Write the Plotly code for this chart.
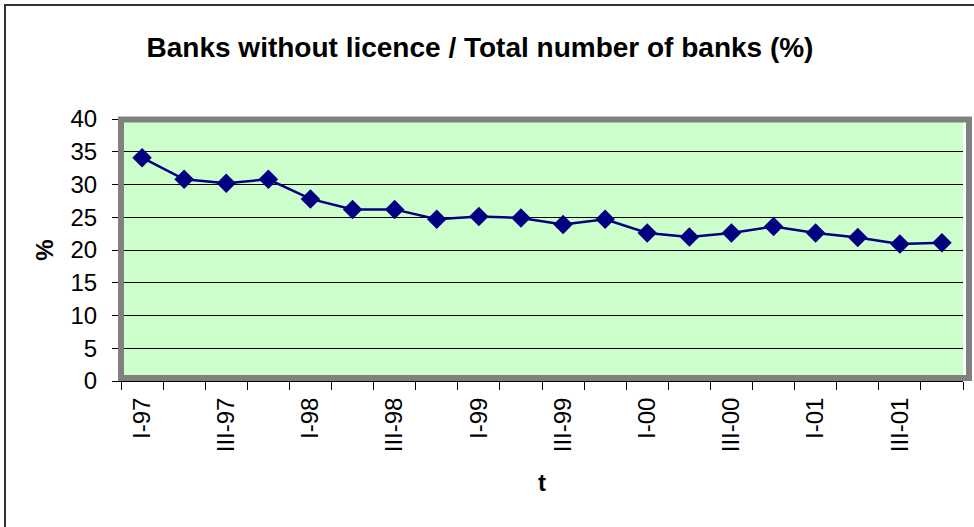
import plotly.graph_objects as go

quarters = ["I-97", "II-97", "III-97", "IV-97",
            "I-98", "II-98", "III-98", "IV-98",
            "I-99", "II-99", "III-99", "IV-99",
            "I-00", "II-00", "III-00", "IV-00",
            "I-01", "II-01", "III-01", "IV-01"]
share_pct = [34.1, 30.8, 30.2, 30.8, 27.8, 26.2, 26.2, 24.7, 25.1, 24.9,
             23.9, 24.7, 22.6, 22.0, 22.6, 23.6, 22.6, 21.9, 20.9, 21.1]
tick_text = [q if i % 2 == 0 else "" for i, q in enumerate(quarters)]
y_ticks = [0, 5, 10, 15, 20, 25, 30, 35, 40]

W, H = 974, 527
L, R, T, B = 121, 11, 119, 146
pw, ph = W - L - R, H - T - B
def px(x):
    return (x - L) / pw
def py(y):
    return (H - B - y) / ph

FONT = "Arial, Liberation Sans, sans-serif"

fig = go.Figure()
fig.add_trace(go.Scatter(
    x=quarters, y=share_pct, mode="lines+markers",
    line=dict(color="#000080", width=2.5),
    marker=dict(symbol="diamond", size=15, color="#000080"),
    showlegend=False, hoverinfo="x+y"))

fig.update_layout(
    width=W, height=H,
    margin=dict(l=L, r=R, t=T, b=B),
    paper_bgcolor="white", plot_bgcolor="#CCFFCC",
    font=dict(family=FONT, color="black"),
    title=dict(text="<b>Banks without licence / Total number of banks (%)</b>",
               x=480 / W, xanchor="center", y=1 - 47 / H, yanchor="middle",
               font=dict(size=28, family=FONT, color="black")),
    xaxis=dict(type="category", range=[-0.5, len(quarters) - 0.5],
               tickmode="array", tickvals=quarters, ticktext=tick_text,
               tickson="boundaries", ticks="outside", ticklen=8,
               tickcolor="black", tickwidth=1, tickangle=-90,
               tickfont=dict(size=24, family=FONT), ticklabelstandoff=6,
               showgrid=False, showline=True, linecolor="black", linewidth=1,
               title=dict(text="<b>t</b>", font=dict(size=24, family=FONT), standoff=22),
               fixedrange=True),
    yaxis=dict(range=[0, 40], tickmode="array", tickvals=y_ticks,
               ticks="outside", ticklen=8, tickcolor="black", tickwidth=1,
               tickfont=dict(size=24, family=FONT), ticklabelstandoff=10,
               showgrid=True, gridcolor="black", gridwidth=1,
               showline=True, linecolor="black", linewidth=1, zeroline=False,
               title=dict(text="<b>%</b>", font=dict(size=24, family=FONT), standoff=10),
               fixedrange=True),
    shapes=[
        dict(type="rect", xref="paper", yref="paper",
             x0=px(121), x1=px(969), y0=py(378), y1=py(119.5),
             line=dict(color="#808080", width=6), fillcolor="rgba(0,0,0,0)",
             layer="above"),
        dict(type="path", xref="paper", yref="paper",
             path=f"M {px(5)} {py(560)} L {px(5)} {py(5)} L {px(1000)} {py(5)}",
             line=dict(color="#333333", width=2)),
    ],
)

fig.write_html("out.html")
